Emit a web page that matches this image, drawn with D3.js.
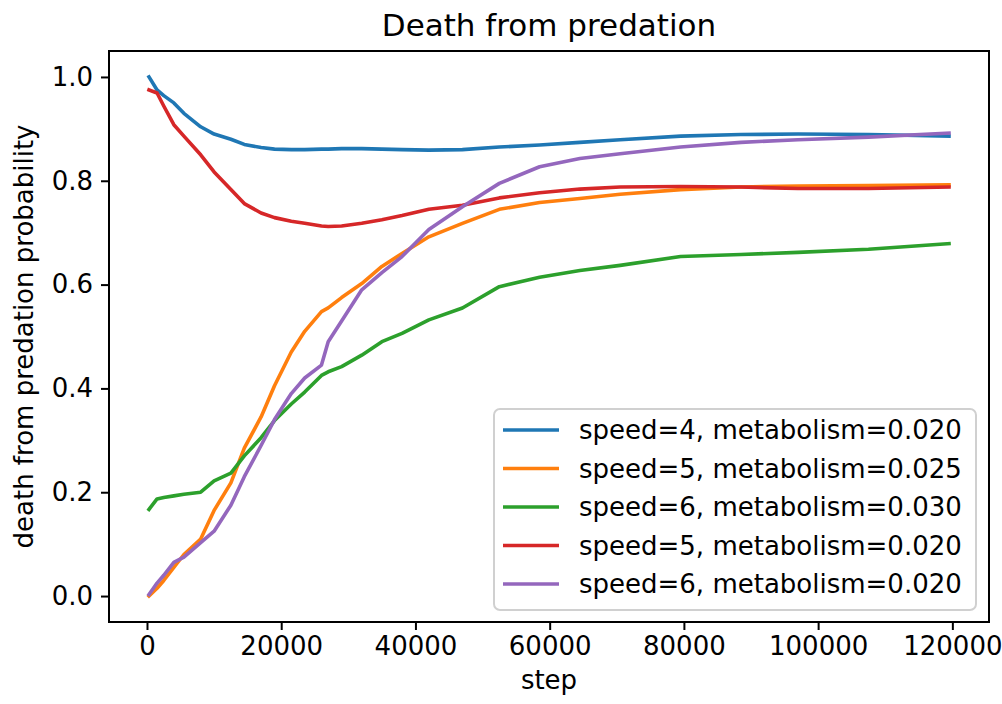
<!DOCTYPE html>
<html>
<head>
<meta charset="utf-8">
<script src="https://cdn.jsdelivr.net/npm/d3@7"></script>
<style>
  body { margin: 0; background: #fff; }
  svg text { font-family: "DejaVu Sans", sans-serif; fill: #000; }
</style>
</head>
<body>
<svg id="chart" width="1002" height="704"></svg>
<script>
// steps
var steps = [300, 1500, 2500, 4000, 5500, 8000, 10000, 12500, 14500, 17000, 19000, 21500, 23500, 26000, 27000,
    29000, 32000, 35000, 38000, 42000, 47000, 52500, 58500, 64500, 70500, 79500, 88500, 97000, 107500, 119500];

var speed4Met020 = [1.0, 0.975, 0.964, 0.95, 0.93, 0.904, 0.89, 0.88, 0.87, 0.864, 0.861, 0.86, 0.86, 0.861, 0.861,
    0.862, 0.862, 0.861, 0.86, 0.859, 0.86, 0.865, 0.869, 0.874, 0.879, 0.886, 0.889, 0.89, 0.889, 0.886];
var speed5Met025 = [0.0, 0.015, 0.03, 0.055, 0.08, 0.11, 0.165, 0.218, 0.285, 0.345, 0.405, 0.47, 0.51, 0.548, 0.555,
    0.575, 0.602, 0.635, 0.66, 0.692, 0.718, 0.745, 0.758, 0.766, 0.774, 0.783, 0.788, 0.79, 0.791, 0.792];
var speed6Met030 = [0.167, 0.187, 0.19, 0.193, 0.196, 0.2, 0.222, 0.237, 0.27, 0.305, 0.338, 0.37, 0.393, 0.425, 0.432,
    0.442, 0.464, 0.49, 0.506, 0.532, 0.555, 0.596, 0.614, 0.627, 0.637, 0.654, 0.658, 0.662, 0.668, 0.679];
var speed5Met020 = [0.975, 0.969, 0.944, 0.908, 0.886, 0.85, 0.817, 0.783, 0.756, 0.738, 0.729, 0.722, 0.718, 0.713, 0.712,
    0.713, 0.718, 0.725, 0.733, 0.745, 0.753, 0.767, 0.777, 0.784, 0.788, 0.789, 0.788, 0.785, 0.785, 0.788];
var speed6Met020 = [0.003, 0.025, 0.04, 0.065, 0.075, 0.103, 0.125, 0.175, 0.23, 0.29, 0.34, 0.39, 0.42, 0.445, 0.49,
    0.53, 0.59, 0.623, 0.654, 0.706, 0.75, 0.795, 0.827, 0.843, 0.852, 0.865, 0.874, 0.879, 0.884, 0.892];

var seriesNames = ["speed=4, metabolism=0.020", "speed=5, metabolism=0.025", "speed=6, metabolism=0.030",
    "speed=5, metabolism=0.020", "speed=6, metabolism=0.020"];
var seriesValues = [speed4Met020, speed5Met025, speed6Met030, speed5Met020, speed6Met020];
var colors = ["#1f77b4", "#ff7f0e", "#2ca02c", "#d62728", "#9467bd"];

var xTicks = [0, 20000, 40000, 60000, 80000, 100000, 120000];
var yTicks = [0.0, 0.2, 0.4, 0.6, 0.8, 1.0];

var margin = {top: 51, right: 13, bottom: 82, left: 109};
var width = 1002 - margin.left - margin.right,
    height = 704 - margin.top - margin.bottom;

// matplotlib style 5% padding around the data
var xExt = d3.extent(steps), xPad = (xExt[1] - xExt[0]) * 0.05;
var x = d3.scaleLinear().domain([xExt[0] - xPad, xExt[1] + xPad]).range([0, width]);
var y = d3.scaleLinear().domain([-0.05, 1.05]).range([height, 0]);

var svg = d3.select("#chart");
var chart = svg.append("g")
    .attr("transform", "translate(" + margin.left + "," + margin.top + ")");

var line = d3.line()
    .x(function (d, i) { return x(steps[i]); })
    .y(function (d) { return y(d); });

chart.selectAll(".line")
    .data(seriesValues).enter()
    .append("path")
    .attr("class", "line")
    .attr("fill", "none")
    .attr("stroke", function (d, i) { return colors[i]; })
    .attr("stroke-width", 3.6)
    .attr("stroke-linejoin", "round")
    .attr("stroke-linecap", "square")
    .attr("d", line);

// axes
var xAxis = d3.axisBottom(x).tickValues(xTicks).tickFormat(d3.format("d")).tickSize(8).tickPadding(7);
var yAxis = d3.axisLeft(y).tickValues(yTicks).tickFormat(d3.format(".1f")).tickSize(8).tickPadding(8);

var gx = chart.append("g").attr("transform", "translate(0," + height + ")").call(xAxis);
var gy = chart.append("g").call(yAxis);
[gx, gy].forEach(function (g) {
    g.select(".domain").remove();
    g.selectAll("line").attr("stroke", "#000").attr("stroke-width", 2);
    g.selectAll("text").style("font-size", "26px").attr("fill", "#000");
});

chart.append("rect")
    .attr("width", width)
    .attr("height", height)
    .attr("fill", "none")
    .attr("stroke", "#000")
    .attr("stroke-width", 2);

// titles
svg.append("text")
    .attr("x", margin.left + width / 2)
    .attr("y", 36)
    .attr("text-anchor", "middle")
    .style("font-size", "31px")
    .text("Death from predation");

svg.append("text")
    .attr("x", margin.left + width / 2)
    .attr("y", 689)
    .attr("text-anchor", "middle")
    .style("font-size", "26px")
    .text("step");

svg.append("text")
    .attr("transform", "translate(33," + (margin.top + height / 2) + ") rotate(-90)")
    .attr("text-anchor", "middle")
    .style("font-size", "26px")
    .text("death from predation probability");

// legend
var legend = chart.append("g").attr("transform", "translate(" + (494 - margin.left) + "," + (409 - margin.top) + ")");
legend.append("rect")
    .attr("width", 482)
    .attr("height", 201)
    .attr("rx", 6)
    .attr("fill", "#fff")
    .attr("fill-opacity", 0.8)
    .attr("stroke", "#d0d0d0")
    .attr("stroke-width", 2);

var rows = legend.selectAll(".row")
    .data(seriesNames).enter()
    .append("g")
    .attr("class", "row")
    .attr("transform", function (d, i) { return "translate(0," + (21 + i * 38.5) + ")"; });

rows.append("line")
    .attr("x1", 9).attr("x2", 65)
    .attr("stroke", function (d, i) { return colors[i]; })
    .attr("stroke-width", 3.6);

rows.append("text")
    .attr("x", 85)
    .attr("dy", "0.35em")
    .style("font-size", "26px")
    .text(function (d) { return d; });
</script>
</body>
</html>
